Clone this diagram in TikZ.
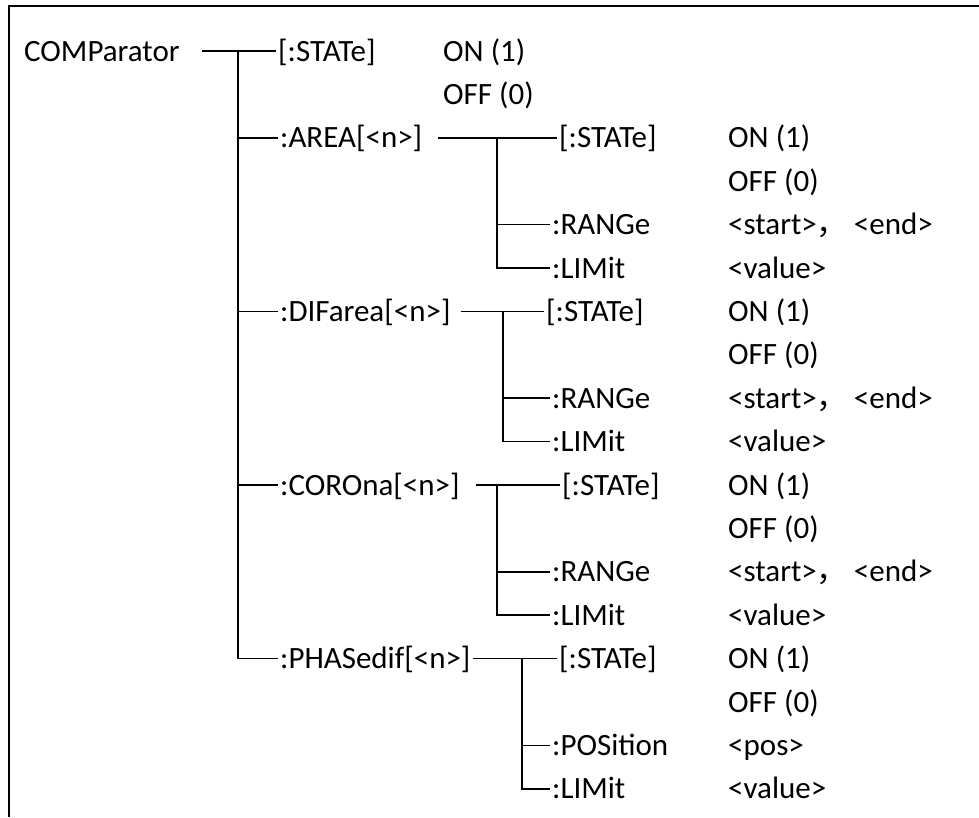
\documentclass[tikz,border=0pt]{standalone}
\usepackage{fontspec}
\setmainfont{Carlito}
\newfontfamily\cjk{Noto Sans CJK SC}
\newcommand{\sepcomma}{{\cjk ，}\hspace{6pt}}
\tikzset{
	cmd/.style={anchor=west, inner sep=0pt, text height=20pt, text depth=0pt,
			font=\fontsize{31}{31}\selectfont},
	lnk/.style={black, line width=1.5pt}
}

\begin{document}
\begin{tikzpicture}[x=1pt, y=-1pt]
		\useasboundingbox (0,0) rectangle (979,817);
		\draw [black, line width=2pt]	(979,6) -- (9,6) -- (9,817);

		% first level
		\node [cmd] (comp)	at (24,51)	{COMParator};
		\node [cmd] (st)	at (278,51)	{[:STATe]};
		\node [cmd] (ston)	at (443,51)	{ON (1)};
		\node [cmd] (stoff)	at (443,94.4)	{OFF (0)};
		\node [cmd] (area)	at (280,137.8)	{:AREA[<n>]};
		\node [cmd] (dif)	at (280,311.4)	{:DIFarea[<n>]};
		\node [cmd] (coro)	at (280,485)	{:COROna[<n>]};
		\node [cmd] (phas)	at (280,658.6)	{:PHASedif[<n>]};

		% AREA
		\node [cmd] (ast)	at (559,137.8)	{[:STATe]};
		\node [cmd] (aon)	at (728,137.8)	{ON (1)};
		\node [cmd] (aoff)	at (728,181.2)	{OFF (0)};
		\node [cmd] (arng)	at (552,224.6)	{:RANGe};
		\node [cmd] (arngv)	at (728,224.6)	{<start>\sepcomma<end>};
		\node [cmd] (alim)	at (552,268)	{:LIMit};
		\node [cmd] (alimv)	at (728,268)	{<value>};

		% DIFarea
		\node [cmd] (dst)	at (546,311.4)	{[:STATe]};
		\node [cmd] (don)	at (728,311.4)	{ON (1)};
		\node [cmd] (doff)	at (728,354.8)	{OFF (0)};
		\node [cmd] (drng)	at (552,398.2)	{:RANGe};
		\node [cmd] (drngv)	at (728,398.2)	{<start>\sepcomma<end>};
		\node [cmd] (dlim)	at (552,441.6)	{:LIMit};
		\node [cmd] (dlimv)	at (728,441.6)	{<value>};

		% COROna
		\node [cmd] (cst)	at (562,485)	{[:STATe]};
		\node [cmd] (con)	at (728,485)	{ON (1)};
		\node [cmd] (coff)	at (728,528.4)	{OFF (0)};
		\node [cmd] (crng)	at (552,571.8)	{:RANGe};
		\node [cmd] (crngv)	at (728,571.8)	{<start>\sepcomma<end>};
		\node [cmd] (clim)	at (552,615.2)	{:LIMit};
		\node [cmd] (climv)	at (728,615.2)	{<value>};

		% PHASedif
		\node [cmd] (pst)	at (559,658.6)	{[:STATe]};
		\node [cmd] (pon)	at (728,658.6)	{ON (1)};
		\node [cmd] (poff)	at (728,702)	{OFF (0)};
		\node [cmd] (ppos)	at (552,745.4)	{:POSition};
		\node [cmd] (pposv)	at (728,745.4)	{<pos>};
		\node [cmd] (plim)	at (552,788.8)	{:LIMit};
		\node [cmd] (plimv)	at (728,788.8)	{<value>};

		% trunks
		\coordinate (t)  at (238,51);
		\coordinate (at) at (497,137.8);
		\coordinate (dt) at (503,311.4);
		\coordinate (ct) at (497,485);
		\coordinate (pt) at (522,658.6);

		\draw [lnk, shorten <=22pt, shorten >=2pt]	(comp.east) -- (st.west);
		\draw [lnk, shorten >=2pt]	(t) |- (phas.west);
		\draw [lnk, shorten >=2pt]	(t |- area) -- (area.west);
		\draw [lnk, shorten >=2pt]	(t |- dif) -- (dif.west);
		\draw [lnk, shorten >=2pt]	(t |- coro) -- (coro.west);

		\draw [lnk, shorten <=16pt, shorten >=2pt]	(area.east) -- (ast.west);
		\draw [lnk, shorten >=2pt]	(at) |- (alim.west);
		\draw [lnk, shorten >=2pt]	(at |- arng) -- (arng.west);

		\draw [lnk, shorten <=10pt, shorten >=2pt]	(dif.east) -- (dst.west);
		\draw [lnk, shorten >=2pt]	(dt) |- (dlim.west);
		\draw [lnk, shorten >=2pt]	(dt |- drng) -- (drng.west);

		\draw [lnk, shorten <=16pt, shorten >=2pt]	(coro.east) -- (cst.west);
		\draw [lnk, shorten >=2pt]	(ct) |- (clim.west);
		\draw [lnk, shorten >=2pt]	(ct |- crng) -- (crng.west);

		\draw [lnk, shorten <=2pt, shorten >=2pt]	(phas.east) -- (pst.west);
		\draw [lnk, shorten >=2pt]	(pt) |- (plim.west);
		\draw [lnk, shorten >=2pt]	(pt |- ppos) -- (ppos.west);
	\end{tikzpicture}
\end{document}
